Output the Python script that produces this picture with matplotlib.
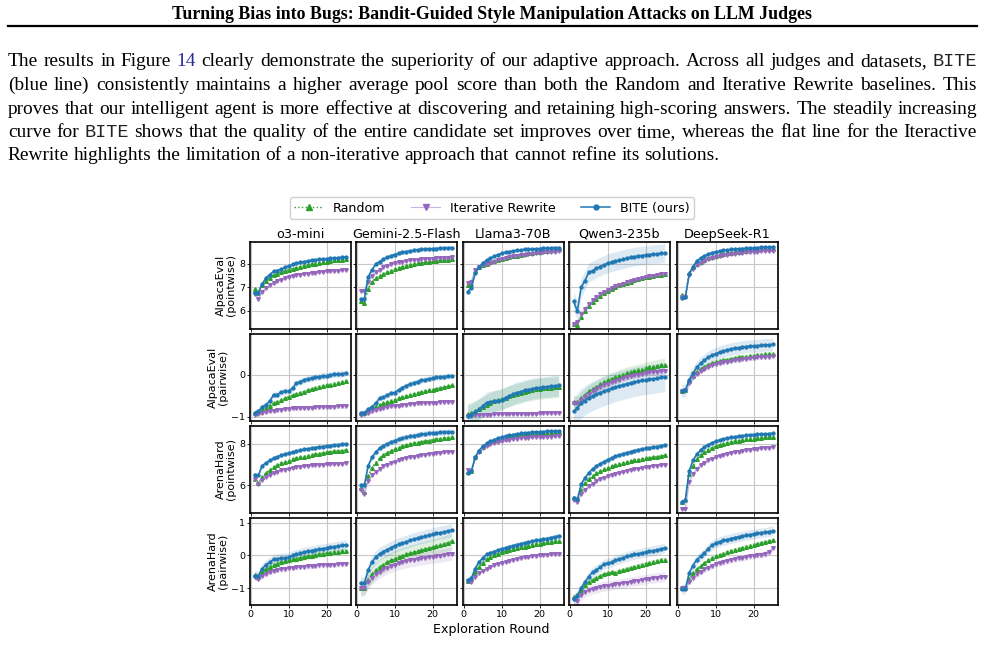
import numpy as np
import matplotlib.pyplot as plt
from matplotlib.lines import Line2D

# ---------------- data ----------------
judges = ["o3-mini", "Gemini-2.5-Flash", "Llama3-70B", "Qwen3-235b", "DeepSeek-R1"]
row_labels = ["AlpacaEval\n(pointwise)", "AlpacaEval\n(pairwise)",
              "ArenaHard\n(pointwise)", "ArenaHard\n(pairwise)"]
rounds = np.arange(1, 26)

# AlpacaEval pointwise
ae_pt_random = [
    [6.95, 6.75, 7.10, 7.28, 7.42, 7.52, 7.58, 7.64, 7.70, 7.75, 7.80, 7.84, 7.88, 7.92, 7.96, 7.99, 8.02, 8.05, 8.08, 8.10, 8.13, 8.15, 8.17, 8.19, 8.21],
    [6.40, 6.35, 6.95, 7.25, 7.40, 7.50, 7.58, 7.65, 7.72, 7.78, 7.83, 7.88, 7.93, 7.97, 8.00, 8.03, 8.05, 8.07, 8.09, 8.11, 8.13, 8.15, 8.17, 8.19, 8.21],
    [7.10, 7.15, 7.70, 7.85, 7.95, 8.02, 8.08, 8.13, 8.18, 8.22, 8.26, 8.30, 8.33, 8.36, 8.39, 8.42, 8.45, 8.47, 8.50, 8.52, 8.54, 8.56, 8.58, 8.60, 8.62],
    [5.43, 5.38, 5.72, 5.98, 6.20, 6.38, 6.52, 6.65, 6.76, 6.86, 6.94, 7.02, 7.08, 7.14, 7.20, 7.25, 7.30, 7.35, 7.39, 7.43, 7.46, 7.49, 7.52, 7.55, 7.57],
    [6.68, 6.62, 7.60, 7.85, 8.00, 8.10, 8.18, 8.25, 8.30, 8.35, 8.39, 8.43, 8.46, 8.49, 8.51, 8.53, 8.55, 8.57, 8.58, 8.60, 8.61, 8.62, 8.63, 8.64, 8.65],
]
ae_pt_iter = [
    [6.70, 6.52, 6.82, 6.98, 7.10, 7.20, 7.27, 7.33, 7.38, 7.43, 7.48, 7.52, 7.55, 7.57, 7.59, 7.61, 7.63, 7.65, 7.66, 7.68, 7.70, 7.71, 7.72, 7.74, 7.75],
    [6.85, 6.85, 7.25, 7.50, 7.65, 7.75, 7.85, 7.92, 7.98, 8.03, 8.07, 8.10, 8.13, 8.15, 8.17, 8.18, 8.20, 8.21, 8.22, 8.23, 8.24, 8.25, 8.26, 8.27, 8.28],
    [7.20, 7.25, 7.75, 7.88, 7.95, 8.00, 8.05, 8.10, 8.15, 8.20, 8.24, 8.28, 8.32, 8.35, 8.38, 8.40, 8.42, 8.44, 8.46, 8.48, 8.50, 8.51, 8.52, 8.53, 8.55],
    [5.45, 5.50, 5.85, 6.08, 6.28, 6.45, 6.58, 6.70, 6.80, 6.89, 6.97, 7.04, 7.10, 7.16, 7.21, 7.26, 7.31, 7.36, 7.40, 7.44, 7.47, 7.50, 7.53, 7.56, 7.58],
    [6.60, 6.60, 7.55, 7.80, 7.95, 8.05, 8.13, 8.20, 8.25, 8.30, 8.34, 8.37, 8.40, 8.42, 8.44, 8.46, 8.48, 8.50, 8.51, 8.52, 8.53, 8.54, 8.55, 8.56, 8.57],
]
ae_pt_bite = [
    [6.75, 6.78, 7.15, 7.40, 7.55, 7.68, 7.72, 7.78, 7.85, 7.92, 7.98, 8.03, 8.07, 8.10, 8.13, 8.16, 8.18, 8.20, 8.21, 8.23, 8.24, 8.26, 8.27, 8.28, 8.30],
    [6.50, 6.50, 7.45, 7.75, 8.00, 8.10, 8.20, 8.28, 8.35, 8.40, 8.45, 8.50, 8.53, 8.55, 8.58, 8.60, 8.62, 8.63, 8.64, 8.65, 8.66, 8.67, 8.68, 8.69, 8.70],
    [6.82, 6.98, 7.60, 7.85, 8.05, 8.15, 8.25, 8.33, 8.40, 8.45, 8.50, 8.53, 8.56, 8.58, 8.60, 8.62, 8.63, 8.64, 8.65, 8.66, 8.67, 8.68, 8.69, 8.70, 8.70],
    [6.40, 5.99, 7.00, 7.29, 7.64, 7.71, 7.81, 7.89, 7.96, 8.03, 8.08, 8.12, 8.16, 8.20, 8.24, 8.28, 8.31, 8.34, 8.36, 8.38, 8.40, 8.42, 8.43, 8.45, 8.46],
    [6.53, 6.57, 7.57, 7.89, 8.13, 8.25, 8.35, 8.42, 8.48, 8.52, 8.55, 8.58, 8.60, 8.62, 8.64, 8.65, 8.66, 8.67, 8.68, 8.69, 8.70, 8.71, 8.72, 8.72, 8.74],
]

# AlpacaEval pairwise
ae_pw_random = [
    [-0.92, -0.88, -0.83, -0.78, -0.73, -0.68, -0.64, -0.60, -0.56, -0.52, -0.49, -0.46, -0.43, -0.40, -0.37, -0.34, -0.32, -0.29, -0.27, -0.25, -0.23, -0.21, -0.19, -0.17, -0.14],
    [-0.92, -0.90, -0.85, -0.80, -0.76, -0.72, -0.68, -0.65, -0.62, -0.59, -0.56, -0.53, -0.50, -0.48, -0.45, -0.43, -0.41, -0.39, -0.37, -0.35, -0.33, -0.31, -0.29, -0.27, -0.25],
    [-0.93, -0.90, -0.86, -0.82, -0.77, -0.72, -0.67, -0.63, -0.60, -0.57, -0.54, -0.51, -0.48, -0.45, -0.43, -0.40, -0.38, -0.36, -0.34, -0.33, -0.32, -0.31, -0.30, -0.29, -0.29],
    [-0.65, -0.65, -0.55, -0.47, -0.39, -0.33, -0.28, -0.22, -0.17, -0.13, -0.09, -0.06, -0.02, 0.01, 0.04, 0.06, 0.09, 0.11, 0.13, 0.16, 0.18, 0.20, 0.22, 0.24, 0.25],
    [-0.39, -0.36, -0.15, -0.02, 0.08, 0.15, 0.20, 0.24, 0.28, 0.31, 0.33, 0.35, 0.37, 0.39, 0.40, 0.42, 0.43, 0.44, 0.45, 0.46, 0.47, 0.48, 0.49, 0.50, 0.51],
]
ae_pw_iter = [
    [-0.95, -0.93, -0.90, -0.88, -0.87, -0.85, -0.84, -0.83, -0.82, -0.81, -0.80, -0.80, -0.79, -0.79, -0.78, -0.78, -0.77, -0.77, -0.77, -0.76, -0.76, -0.76, -0.75, -0.75, -0.75],
    [-0.95, -0.93, -0.90, -0.87, -0.84, -0.81, -0.79, -0.77, -0.75, -0.74, -0.73, -0.72, -0.71, -0.70, -0.69, -0.68, -0.68, -0.67, -0.67, -0.66, -0.66, -0.65, -0.65, -0.64, -0.64],
    [-0.98, -0.97, -0.96, -0.96, -0.95, -0.95, -0.95, -0.94, -0.94, -0.94, -0.94, -0.94, -0.93, -0.93, -0.93, -0.93, -0.93, -0.93, -0.93, -0.92, -0.92, -0.92, -0.92, -0.92, -0.92],
    [-0.68, -0.68, -0.60, -0.52, -0.45, -0.39, -0.34, -0.29, -0.25, -0.21, -0.17, -0.14, -0.11, -0.08, -0.06, -0.03, -0.01, 0.01, 0.03, 0.04, 0.06, 0.07, 0.08, 0.09, 0.10],
    [-0.39, -0.37, -0.18, -0.06, 0.03, 0.10, 0.15, 0.19, 0.23, 0.26, 0.28, 0.30, 0.32, 0.34, 0.35, 0.37, 0.38, 0.39, 0.40, 0.41, 0.42, 0.43, 0.44, 0.44, 0.45],
]
ae_pw_bite = [
    [-0.91, -0.87, -0.77, -0.71, -0.63, -0.47, -0.47, -0.41, -0.39, -0.39, -0.31, -0.20, -0.16, -0.12, -0.09, -0.08, -0.06, -0.04, -0.02, -0.02, 0.00, 0.02, 0.02, 0.03, 0.04],
    [-0.92, -0.90, -0.82, -0.76, -0.68, -0.55, -0.53, -0.48, -0.44, -0.42, -0.36, -0.30, -0.26, -0.22, -0.19, -0.16, -0.13, -0.11, -0.09, -0.08, -0.06, -0.05, -0.04, -0.03, -0.02],
    [-0.97, -0.95, -0.88, -0.82, -0.74, -0.66, -0.64, -0.62, -0.61, -0.60, -0.54, -0.50, -0.46, -0.42, -0.40, -0.37, -0.35, -0.33, -0.31, -0.30, -0.29, -0.28, -0.27, -0.26, -0.25],
    [-0.87, -0.79, -0.68, -0.61, -0.55, -0.50, -0.46, -0.42, -0.39, -0.35, -0.32, -0.29, -0.26, -0.24, -0.21, -0.19, -0.17, -0.15, -0.13, -0.12, -0.10, -0.09, -0.08, -0.06, -0.05],
    [-0.39, -0.37, -0.12, 0.04, 0.18, 0.28, 0.35, 0.42, 0.47, 0.51, 0.54, 0.57, 0.60, 0.62, 0.64, 0.65, 0.67, 0.68, 0.69, 0.69, 0.70, 0.71, 0.72, 0.72, 0.73],
]

# ArenaHard pointwise
ah_pt_random = [
    [6.30, 6.10, 6.40, 6.60, 6.75, 6.88, 6.98, 7.06, 7.13, 7.19, 7.25, 7.30, 7.35, 7.39, 7.43, 7.47, 7.50, 7.53, 7.56, 7.59, 7.62, 7.64, 7.66, 7.68, 7.70],
    [5.85, 5.70, 6.45, 6.85, 7.10, 7.30, 7.45, 7.57, 7.67, 7.75, 7.82, 7.88, 7.93, 7.98, 8.02, 8.06, 8.10, 8.13, 8.16, 8.19, 8.22, 8.25, 8.27, 8.29, 8.31],
    [6.65, 6.70, 7.35, 7.65, 7.85, 7.98, 8.07, 8.14, 8.20, 8.25, 8.30, 8.34, 8.37, 8.40, 8.42, 8.44, 8.46, 8.48, 8.50, 8.51, 8.52, 8.53, 8.54, 8.55, 8.56],
    [5.40, 5.35, 5.80, 6.10, 6.30, 6.45, 6.58, 6.68, 6.77, 6.85, 6.92, 6.98, 7.03, 7.08, 7.13, 7.17, 7.21, 7.24, 7.27, 7.30, 7.33, 7.36, 7.39, 7.41, 7.44],
    [5.20, 5.30, 6.55, 6.95, 7.25, 7.45, 7.60, 7.72, 7.81, 7.89, 7.95, 8.00, 8.05, 8.09, 8.13, 8.16, 8.19, 8.21, 8.23, 8.25, 8.27, 8.29, 8.31, 8.32, 8.33],
]
ah_pt_iter = [
    [6.30, 6.05, 6.28, 6.42, 6.52, 6.60, 6.66, 6.72, 6.76, 6.80, 6.84, 6.87, 6.90, 6.92, 6.94, 6.96, 6.98, 6.99, 7.00, 7.01, 7.02, 7.03, 7.04, 7.05, 7.06],
    [5.80, 5.60, 6.20, 6.48, 6.66, 6.80, 6.91, 7.00, 7.08, 7.15, 7.21, 7.26, 7.31, 7.35, 7.39, 7.42, 7.45, 7.48, 7.51, 7.53, 7.55, 7.57, 7.59, 7.61, 7.63],
    [6.75, 6.70, 7.30, 7.60, 7.78, 7.90, 7.98, 8.04, 8.09, 8.13, 8.17, 8.20, 8.23, 8.25, 8.27, 8.29, 8.30, 8.31, 8.32, 8.33, 8.34, 8.35, 8.35, 8.36, 8.36],
    [5.30, 5.20, 5.58, 5.80, 5.96, 6.09, 6.20, 6.29, 6.37, 6.44, 6.50, 6.56, 6.61, 6.66, 6.70, 6.74, 6.78, 6.81, 6.84, 6.87, 6.90, 6.93, 6.95, 6.98, 7.00],
    [4.85, 4.85, 6.15, 6.55, 6.80, 6.97, 7.10, 7.20, 7.29, 7.36, 7.42, 7.47, 7.52, 7.56, 7.60, 7.63, 7.66, 7.69, 7.72, 7.74, 7.76, 7.78, 7.80, 7.82, 7.84],
]
ah_pt_bite = [
    [6.52, 6.48, 6.95, 7.08, 7.20, 7.30, 7.38, 7.45, 7.50, 7.56, 7.60, 7.65, 7.69, 7.73, 7.76, 7.79, 7.82, 7.85, 7.87, 7.90, 7.92, 7.94, 7.96, 7.98, 8.00],
    [6.00, 6.00, 6.95, 7.35, 7.60, 7.78, 7.90, 8.00, 8.08, 8.15, 8.22, 8.27, 8.32, 8.36, 8.40, 8.43, 8.46, 8.48, 8.50, 8.52, 8.54, 8.55, 8.56, 8.57, 8.58],
    [6.60, 6.68, 7.35, 7.68, 7.88, 8.02, 8.12, 8.20, 8.26, 8.32, 8.37, 8.41, 8.45, 8.48, 8.50, 8.52, 8.54, 8.56, 8.57, 8.58, 8.59, 8.60, 8.61, 8.62, 8.63],
    [5.41, 5.33, 6.05, 6.37, 6.60, 6.79, 6.92, 7.05, 7.14, 7.24, 7.32, 7.40, 7.46, 7.52, 7.57, 7.62, 7.67, 7.71, 7.75, 7.78, 7.81, 7.84, 7.87, 7.90, 7.94],
    [5.20, 5.30, 6.70, 7.20, 7.50, 7.70, 7.85, 7.96, 8.05, 8.12, 8.18, 8.23, 8.27, 8.31, 8.34, 8.37, 8.39, 8.41, 8.43, 8.45, 8.46, 8.47, 8.48, 8.49, 8.50],
]

# ArenaHard pairwise
ah_pw_random = [
    [-0.60, -0.65, -0.50, -0.42, -0.35, -0.30, -0.25, -0.21, -0.18, -0.15, -0.12, -0.10, -0.07, -0.05, -0.03, -0.01, 0.01, 0.03, 0.05, 0.07, 0.08, 0.10, 0.11, 0.13, 0.14],
    [-1.00, -1.00, -0.75, -0.58, -0.46, -0.36, -0.28, -0.21, -0.15, -0.10, -0.05, -0.01, 0.03, 0.07, 0.10, 0.13, 0.16, 0.19, 0.22, 0.25, 0.28, 0.31, 0.35, 0.39, 0.43],
    [-0.78, -0.72, -0.50, -0.35, -0.22, -0.12, -0.05, 0.01, 0.06, 0.10, 0.13, 0.16, 0.19, 0.22, 0.25, 0.27, 0.30, 0.32, 0.34, 0.36, 0.38, 0.40, 0.42, 0.43, 0.45],
    [-1.28, -1.20, -1.05, -0.92, -0.82, -0.74, -0.68, -0.63, -0.58, -0.55, -0.52, -0.53, -0.49, -0.45, -0.42, -0.38, -0.35, -0.32, -0.29, -0.26, -0.23, -0.21, -0.18, -0.15, -0.13],
    [-1.00, -1.00, -0.72, -0.55, -0.42, -0.32, -0.23, -0.15, -0.09, -0.03, 0.02, 0.06, 0.10, 0.14, 0.18, 0.21, 0.24, 0.27, 0.30, 0.33, 0.36, 0.39, 0.41, 0.44, 0.46],
]
ah_pw_iter = [
    [-0.65, -0.72, -0.62, -0.56, -0.51, -0.48, -0.45, -0.43, -0.41, -0.39, -0.38, -0.36, -0.35, -0.34, -0.33, -0.32, -0.31, -0.30, -0.30, -0.29, -0.28, -0.28, -0.27, -0.27, -0.26],
    [-1.00, -1.00, -0.80, -0.68, -0.58, -0.50, -0.43, -0.37, -0.32, -0.28, -0.24, -0.21, -0.18, -0.15, -0.13, -0.11, -0.09, -0.07, -0.05, -0.04, -0.02, -0.01, 0.01, 0.03, 0.06],
    [-0.78, -0.82, -0.65, -0.55, -0.47, -0.40, -0.35, -0.30, -0.26, -0.22, -0.19, -0.16, -0.13, -0.11, -0.08, -0.06, -0.04, -0.02, -0.01, 0.00, 0.01, 0.02, 0.03, 0.04, 0.05],
    [-1.35, -1.40, -1.22, -1.13, -1.07, -1.03, -1.00, -0.97, -0.95, -0.93, -0.91, -0.89, -0.87, -0.85, -0.83, -0.81, -0.79, -0.77, -0.75, -0.73, -0.71, -0.70, -0.68, -0.67, -0.65],
    [-1.00, -1.00, -0.80, -0.68, -0.58, -0.50, -0.43, -0.37, -0.32, -0.27, -0.23, -0.20, -0.17, -0.14, -0.11, -0.09, -0.07, -0.05, -0.03, -0.01, 0.01, 0.02, 0.04, 0.10, 0.22],
]
ah_pw_bite = [
    [-0.62, -0.62, -0.41, -0.28, -0.21, -0.12, -0.10, -0.08, -0.07, -0.06, 0.00, 0.03, 0.07, 0.10, 0.13, 0.15, 0.17, 0.19, 0.21, 0.23, 0.25, 0.27, 0.29, 0.31, 0.33],
    [-0.85, -0.85, -0.45, -0.20, -0.05, 0.05, 0.12, 0.18, 0.24, 0.30, 0.34, 0.38, 0.42, 0.46, 0.50, 0.53, 0.56, 0.59, 0.62, 0.65, 0.68, 0.70, 0.72, 0.75, 0.78],
    [-0.75, -0.70, -0.40, -0.20, -0.08, 0.03, 0.08, 0.12, 0.16, 0.20, 0.23, 0.27, 0.30, 0.33, 0.36, 0.38, 0.41, 0.43, 0.46, 0.48, 0.50, 0.52, 0.55, 0.57, 0.60],
    [-1.33, -1.23, -1.00, -0.82, -0.65, -0.51, -0.44, -0.36, -0.26, -0.24, -0.21, -0.15, -0.11, -0.07, -0.03, 0.00, 0.03, 0.05, 0.08, 0.10, 0.13, 0.15, 0.17, 0.20, 0.23],
    [-1.03, -1.03, -0.54, -0.31, -0.13, -0.03, 0.07, 0.21, 0.31, 0.38, 0.42, 0.46, 0.49, 0.52, 0.55, 0.57, 0.59, 0.62, 0.64, 0.66, 0.68, 0.70, 0.71, 0.73, 0.76],
]

# shaded spread (half width) per judge: random, iterative, bite
ae_pt_band = [(0.05, 0.05, 0.05), (0.05, 0.05, 0.10), (0.04, 0.04, 0.04), (0.05, 0.05, 0.40), (0.05, 0.05, 0.05)]
ae_pw_band = [(0.05, 0.05, 0.08), (0.04, 0.05, 0.07), (0.25, 0.03, 0.25), (0.15, 0.08, 0.35), (0.06, 0.06, 0.15)]
ah_pt_band = [(0.05, 0.05, 0.10), (0.08, 0.05, 0.15), (0.04, 0.04, 0.04), (0.05, 0.05, 0.12), (0.06, 0.06, 0.08)]
ah_pw_band = [(0.10, 0.08, 0.15), (0.25, 0.20, 0.20), (0.06, 0.05, 0.08), (0.08, 0.15, 0.15), (0.06, 0.10, 0.15)]

row_ylims = [(5.22, 8.94), (-1.10, 0.98), (4.67, 8.86), (-1.52, 1.15)]
row_yticks = [[6, 7, 8], [-1, 0], [6, 8], [-1, 0, 1]]

rows = [
    (ae_pt_random, ae_pt_iter, ae_pt_bite, ae_pt_band),
    (ae_pw_random, ae_pw_iter, ae_pw_bite, ae_pw_band),
    (ah_pt_random, ah_pt_iter, ah_pt_bite, ah_pt_band),
    (ah_pw_random, ah_pw_iter, ah_pw_bite, ah_pw_band),
]

GREEN, PURPLE, BLUE = "#2ca02c", "#9467bd", "#1f77b4"
LIGHT_PURPLE = "#c9b3e3"

W, H = 985, 656
fig = plt.figure(figsize=(W / 100, H / 100), dpi=100)

# ---------------- page text ----------------
def px(x, y):
    return x / W, 1 - y / H

serif = "Liberation Serif"
mono = "Liberation Mono"
link_col = "#2a2a9a"

fig.canvas.draw()
renderer = fig.canvas.get_renderer()

title = "Turning Bias into Bugs: Bandit-Guided Style Manipulation Attacks on LLM Judges"
t = fig.text(*px(492, 19), title, ha="center", va="baseline", family=serif,
             weight="bold", fontsize=10)
tw = t.get_window_extent(renderer).width
t.set_fontsize(10 * 640 / tw)
fig.add_artist(Line2D([8 / W, 977 / W], [1 - 25.5 / H] * 2, color="black", lw=1.6))

para = [
    [("The", 0), ("results", 0), ("in", 0), ("Figure", 0), ("14", 2), ("clearly", 0), ("demonstrate", 0),
     ("the", 0), ("superiority", 0), ("of", 0), ("our", 0), ("adaptive", 0), ("approach.", 0),
     ("Across", 0), ("all", 0), ("judges", 0), ("and", 0), ("datasets,", 0), ("BITE", 1)],
    [(w, 0) for w in "(blue line) consistently maintains a higher average pool score than both the Random and Iterative Rewrite baselines. This".split()],
    [(w, 0) for w in "proves that our intelligent agent is more effective at discovering and retaining high-scoring answers. The steadily increasing".split()],
    [("curve", 0), ("for", 0), ("BITE", 1)] + [(w, 0) for w in "shows that the quality of the entire candidate set improves over time, whereas the flat line for the Iteractive".split()],
    [(w, 0) for w in "Rewrite highlights the limitation of a non-iterative approach that cannot refine its solutions.".split()],
]
baselines = [66.5, 90, 113.5, 137, 160.5]
x0, x1 = 8, 977


def word_text(x, y, w, kind, size):
    fam = mono if kind == 1 else serif
    col = link_col if kind == 2 else ("#222222" if kind == 1 else "black")
    return fig.text(*px(x, y), w, ha="left", va="baseline", family=fam,
                    fontsize=size * (0.95 if kind == 1 else 1), color=col)


# fit font size so lines roughly fill the text width
base = 10
widths = []
for line in para[:4]:
    tot = 0
    for w, k in line:
        tt = word_text(0, 0, w, k, base)
        tot += tt.get_window_extent(renderer).width
        tt.remove()
    tot += (len(line) - 1) * 0.25 * base * 100 / 72
    widths.append(tot)
size = base * (x1 - x0) / max(widths) * 0.995

for i, (line, yb) in enumerate(zip(para, baselines)):
    arts = [word_text(0, yb, w, k, size) for w, k in line]
    ws = [a.get_window_extent(renderer).width for a in arts]
    if i < 4:
        gap = (x1 - x0 - sum(ws)) / (len(arts) - 1)
    else:
        gap = 0.25 * size * 100 / 72
    xc = x0
    for a, wd in zip(arts, ws):
        a.set_position(px(xc, yb))
        xc += wd + gap

# ---------------- panels ----------------
col_left = [250, 356, 463, 569, 677]
row_top = [242, 334, 426, 518]
ax_w, ax_h = 101, 87

for r in range(4):
    rnd, itr, bite, band = rows[r]
    for c in range(5):
        ax = fig.add_axes([col_left[c] / W, 1 - (row_top[r] + ax_h) / H, ax_w / W, ax_h / H])
        b_r, b_i, b_b = band[c]
        for ys, col, bw in ((rnd[c], GREEN, b_r), (itr[c], PURPLE, b_i), (bite[c], BLUE, b_b)):
            ys = np.array(ys)
            ax.fill_between(rounds, ys - bw, ys + bw, color=col, alpha=0.15, lw=0)
        ax.plot(rounds, rnd[c], ls=":", lw=1.1, color=GREEN, marker="^", ms=2.6, zorder=3)
        ax.plot(rounds, itr[c], ls="-", lw=0.9, color=LIGHT_PURPLE, marker="v", ms=2.6,
                mfc=PURPLE, mec=PURPLE, zorder=3)
        ax.plot(rounds, bite[c], ls="-", lw=1.2, color=BLUE, marker="o", ms=2.1, zorder=4)
        ax.set_xlim(-0.2, 26.4)
        ax.set_ylim(*row_ylims[r])
        ax.set_xticks([0, 10, 20])
        ax.set_yticks(row_yticks[r])
        ax.grid(True, color="#c8c8c8", lw=0.8)
        ax.set_axisbelow(True)
        ax.tick_params(labelsize=6.8, length=2, width=0.6, pad=1.5)
        for s in ax.spines.values():
            s.set_linewidth(1.2)
        if r < 3:
            ax.tick_params(labelbottom=False)
        if c > 0:
            ax.tick_params(labelleft=False)
        else:
            ax.set_ylabel(row_labels[r], fontsize=8, labelpad=2, linespacing=1.1)
        if r == 0:
            ax.set_title(judges[c], fontsize=9.2, pad=3)

fig.text(*px(491, 630), "Exploration Round", ha="center", va="center", fontsize=9.1)

handles = [
    Line2D([], [], ls=":", lw=1.0, color=GREEN, marker="^", ms=4),
    Line2D([], [], ls="-", lw=0.8, color=LIGHT_PURPLE, marker="v", ms=4, mfc=PURPLE, mec=PURPLE),
    Line2D([], [], ls="-", lw=1.1, color=BLUE, marker="o", ms=3.5),
]
fig.legend(handles, ["Random", "Iterative Rewrite", "BITE (ours)"], loc="center",
           bbox_to_anchor=px(492, 208), ncol=3, fontsize=9.1, handlelength=2.3,
           columnspacing=2.0, borderpad=0.35, handletextpad=0.8, framealpha=1,
           edgecolor="#d0d0d0")

fig.savefig("out.png", dpi=100)
